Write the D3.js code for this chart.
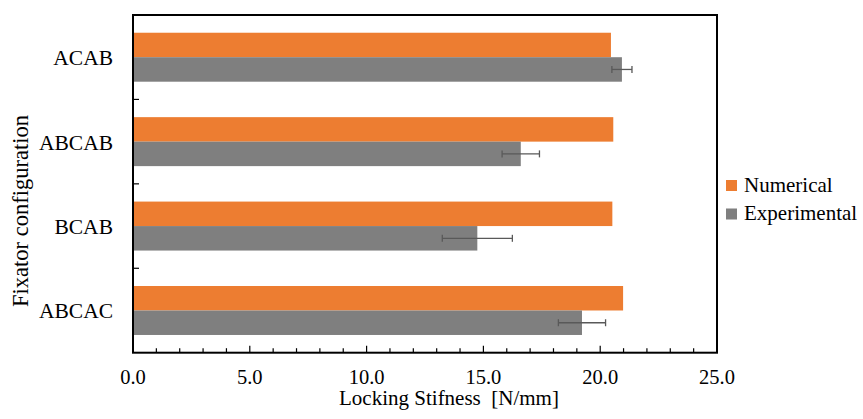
<!DOCTYPE html>
<html>
<head>
<meta charset="utf-8">
<script src="https://cdn.jsdelivr.net/npm/d3@7"></script>
<style>
  html, body { margin: 0; padding: 0; background: #fff; }
  svg { display: block; }
</style>
</head>
<body>
<svg id="chart" width="863" height="419"></svg>
<script>
// Fixator configurations, top to bottom
const categories = ["ACAB", "ABCAB", "BCAB", "ABCAC"];
const seriesNames = ["Numerical", "Experimental"];
// Locking stiffness [N/mm]
const numerical = [20.46, 20.56, 20.52, 20.98];
const experimental = [20.93, 16.6, 14.74, 19.22];
const experimentalError = [0.43, 0.8, 1.5, 1.01];
const xTickValues = [0, 5, 10, 15, 20, 25];
const xTitle = "Locking Stifness\u00a0\u00a0[N/mm]";
const yTitle = "Fixator configuration";

const colors = { Numerical: "#ED7D31", Experimental: "#7F7F7F" };
const serif = '"Liberation Serif", "Times New Roman", Tinos, "DejaVu Serif", "Noto Serif CJK SC", serif';

const svg = d3.select("#chart");
const plot = { left: 133, right: 717, top: 15, bottom: 352.7 };

const x = d3.scaleLinear().domain([0, 25]).range([plot.left, plot.right]);
const y = d3.scaleBand().domain(categories)
  .range([plot.top, plot.bottom]).paddingInner(0.42).paddingOuter(0.21);
const ySub = d3.scaleBand().domain(seriesNames).range([0, y.bandwidth()]);

const rows = categories.map((c, i) => ({
  cat: c,
  values: [
    { name: "Numerical", v: numerical[i] },
    { name: "Experimental", v: experimental[i], err: experimentalError[i] }
  ]
}));

// Bars
const groups = svg.append("g").selectAll("g").data(rows).join("g")
  .attr("transform", d => `translate(0,${y(d.cat)})`);
groups.selectAll("rect").data(d => d.values).join("rect")
  .attr("x", x(0))
  .attr("y", d => ySub(d.name))
  .attr("width", d => x(d.v) - x(0))
  .attr("height", ySub.bandwidth())
  .attr("fill", d => colors[d.name]);

// Error bars on experimental values
const eb = groups.selectAll("g.err").data(d => d.values.filter(v => v.err != null)).join("g")
  .attr("class", "err")
  .attr("stroke", "#595959").attr("stroke-width", 1.3);
eb.append("line")
  .attr("x1", d => x(d.v - d.err)).attr("x2", d => x(d.v + d.err))
  .attr("y1", d => ySub(d.name) + ySub.bandwidth() / 2)
  .attr("y2", d => ySub(d.name) + ySub.bandwidth() / 2);
eb.selectAll("line.cap").data(d => [d.v - d.err, d.v + d.err].map(e => ({ e, d }))).join("line")
  .attr("class", "cap")
  .attr("x1", o => x(o.e)).attr("x2", o => x(o.e))
  .attr("y1", o => ySub(o.d.name) + ySub.bandwidth() / 2 - 3.5)
  .attr("y2", o => ySub(o.d.name) + ySub.bandwidth() / 2 + 3.5);

// Bottom axis: inward minor (1) and major (5) ticks
const minorTicks = d3.range(1, 25).filter(v => v % 5 !== 0);
const majorTicks = xTickValues.slice(1, -1);
const tickG = svg.append("g").attr("stroke", "#000").attr("stroke-width", 1.2);
tickG.selectAll("line.minor").data(minorTicks).join("line").attr("class", "minor")
  .attr("x1", d => x(d)).attr("x2", d => x(d))
  .attr("y1", plot.bottom).attr("y2", plot.bottom - 4.5);
tickG.selectAll("line.major").data(majorTicks).join("line").attr("class", "major")
  .attr("x1", d => x(d)).attr("x2", d => x(d))
  .attr("y1", plot.bottom).attr("y2", plot.bottom - 7);

// Left axis: ticks at category boundaries
const boundaries = d3.range(1, categories.length).map(i => y.range()[0] + i * y.step());
tickG.selectAll("line.ytick").data(boundaries).join("line").attr("class", "ytick")
  .attr("x1", plot.left).attr("x2", plot.left + 6)
  .attr("y1", d => d).attr("y2", d => d);

// Frame
svg.append("rect")
  .attr("x", plot.left).attr("y", plot.top)
  .attr("width", plot.right - plot.left).attr("height", plot.bottom - plot.top)
  .attr("fill", "none").attr("stroke", "#000").attr("stroke-width", 2);

const txt = svg.append("g");

// X tick labels
txt.append("g").selectAll("text").data(xTickValues).join("text")
  .attr("x", d => x(d)).attr("y", 383.5)
  .attr("text-anchor", "middle")
  .style("font-family", serif).style("font-size", "20.5px")
  .text(d => d3.format(".1f")(d));

// Category labels
txt.append("g").selectAll("text").data(categories).join("text")
  .attr("x", 113).attr("y", d => y(d) + y.bandwidth() / 2 + 8)
  .attr("text-anchor", "end")
  .style("font-family", serif).style("font-size", "21.5px")
  .text(d => d);

// Axis titles
txt.append("text")
  .attr("x", 449).attr("y", 405)
  .attr("text-anchor", "middle")
  .style("font-family", serif).style("font-size", "21px")
  .text(xTitle);
txt.append("text")
  .attr("transform", "translate(27.5,211) rotate(-90)")
  .attr("text-anchor", "middle")
  .style("font-family", serif).style("font-size", "22.5px")
  .text(yTitle);

// Legend
const legend = svg.append("g").selectAll("g").data(seriesNames).join("g")
  .attr("transform", (d, i) => `translate(726,${180 + i * 28.5})`);
legend.append("rect").attr("width", 11).attr("height", 11).attr("fill", d => colors[d]);
legend.append("text").attr("x", 18).attr("y", 11.5)
  .style("font-family", serif).style("font-size", "21px").text(d => d);
</script>
</body>
</html>
